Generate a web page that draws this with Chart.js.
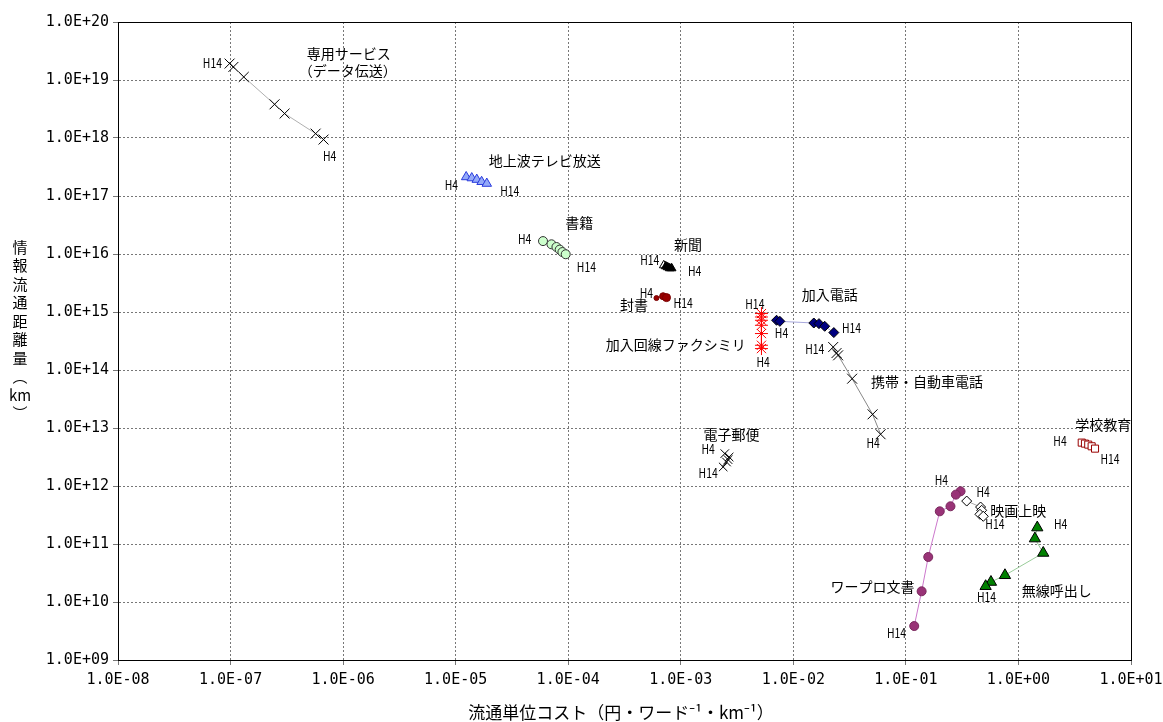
<!DOCTYPE html>
<html>
<head>
<meta charset="utf-8">
<script src="https://cdn.jsdelivr.net/npm/chart.js@4/dist/chart.umd.min.js"></script>
<style>
  html, body { margin: 0; padding: 0; background: #fff; }
  #wrap { width: 1163px; height: 722px; }
</style>
</head>
<body>
<div id="wrap"><canvas id="c" width="1163" height="722"></canvas></div>
<script>
// axis ticks
const xTickValues = [1e-8, 1e-7, 1e-6, 1e-5, 1e-4, 1e-3, 1e-2, 1e-1, 1e0, 1e1];
const xTickLabels = ["1.0E-08", "1.0E-07", "1.0E-06", "1.0E-05", "1.0E-04", "1.0E-03", "1.0E-02", "1.0E-01", "1.0E+00", "1.0E+01"];
const yTickValues = [1e9, 1e10, 1e11, 1e12, 1e13, 1e14, 1e15, 1e16, 1e17, 1e18, 1e19, 1e20];
const yTickLabels = ["1.0E+09", "1.0E+10", "1.0E+11", "1.0E+12", "1.0E+13", "1.0E+14", "1.0E+15", "1.0E+16", "1.0E+17", "1.0E+18", "1.0E+19", "1.0E+20"];

// series: cost (x) / distance (y)
const senyoX = [9.8e-8, 1.06e-7, 1.31e-7, 2.46e-7, 3.02e-7, 5.7e-7, 6.7e-7];
const senyoY = [1.92e19, 1.68e19, 1.13e19, 3.81e18, 2.64e18, 1.19e18, 9.4e17];
const tvX = [1.24e-5, 1.39e-5, 1.54e-5, 1.70e-5, 1.89e-5];
const tvY = [2.13e17, 2.04e17, 1.92e17, 1.76e17, 1.64e17];
const shosekiX = [5.97e-5, 7.1e-5, 7.86e-5, 8.4e-5, 8.88e-5, 9.5e-5];
const shosekiY = [1.67e16, 1.47e16, 1.32e16, 1.19e16, 1.08e16, 9.9e15];
const shinbunX = [7.06e-4, 7.36e-4, 7.66e-4, 7.98e-4, 8.3e-4];
const shinbunY = [6.38e15, 6.13e15, 5.9e15, 5.67e15, 5.67e15];
const fushoX = [6.08e-4, 6.97e-4, 7.47e-4];
const fushoY = [1.74e15, 1.87e15, 1.77e15];
const faxX = [5.21e-3, 5.21e-3, 5.21e-3, 5.21e-3, 5.21e-3, 5.21e-3, 5.21e-3];
const faxY = [9.4e14, 8.2e14, 7.2e14, 5.9e14, 4.25e14, 2.67e14, 2.34e14];
const kanyuX = [7.1e-3, 7.59e-3, 1.52e-2, 1.69e-2, 1.9e-2, 2.29e-2];
const kanyuY = [7.2e14, 6.9e14, 6.46e14, 6.3e14, 5.67e14, 4.42e14];
const keitaiX = [2.26e-2, 2.42e-2, 2.5e-2, 3.33e-2, 5.06e-2, 5.96e-2];
const keitaiY = [2.49e14, 1.96e14, 1.79e14, 7.08e13, 1.72e13, 7.8e12];
const denshiX = [2.46e-3, 2.69e-3, 2.63e-3, 2.55e-3, 2.38e-3];
const denshiY = [3.62e12, 3.16e12, 2.85e12, 2.59e12, 2.13e12];
const gakkoX = [3.65, 3.9, 4.17, 4.47, 4.79];
const gakkoY = [5.6e12, 5.38e12, 5.17e12, 4.84e12, 4.41e12];
const wapuroX = [0.306, 0.278, 0.249, 0.2, 0.158, 0.138, 0.1186];
const wapuroY = [8.1e11, 7.1e11, 4.47e11, 3.66e11, 5.97e10, 1.53e10, 3.85e9];
const eigaX = [0.347, 0.461, 0.471, 0.455, 0.487];
const eigaY = [5.5e11, 4.34e11, 3.81e11, 3.25e11, 3.0e11];
const musenX = [1.47, 1.40, 1.66, 0.759, 0.570, 0.511];
const musenY = [1.92e11, 1.24e11, 7.0e10, 2.89e10, 2.21e10, 1.87e10];

// annotations placed in data coordinates
const noteText = ["専用サービス", "（データ伝送）", "H14", "H4",
  "地上波テレビ放送", "H4", "H14",
  "書籍", "H4", "H14",
  "新聞", "H14", "H4",
  "封書", "H4", "H14",
  "加入回線ファクシミリ", "H14", "H4",
  "加入電話", "H4", "H14",
  "H14", "H4", "携帯・自動車電話",
  "電子郵便", "H4", "H14",
  "学校教育", "H4", "H14",
  "H4", "H14", "ワープロ文書",
  "H4", "H14", "映画上映",
  "H4", "H14", "無線呼出し"];
const noteX = [1.12e-6, 1.10e-6, 6.9e-8, 7.6e-7,
  6.18e-5, 9.16e-6, 3.02e-5,
  1.25e-4, 4.1e-5, 1.45e-4,
  1.16e-3, 5.3e-4, 1.33e-3,
  3.85e-4, 4.95e-4, 1.05e-3,
  9.04e-4, 4.55e-3, 5.4e-3,
  2.11e-2, 7.85e-3, 3.29e-2,
  1.55e-2, 5.12e-2, 0.154,
  2.82e-3, 1.75e-3, 1.75e-3,
  5.67, 2.34, 6.5,
  0.207, 8.26e-2, 5.04e-2,
  0.486, 0.618, 0.995,
  2.37, 0.521, 2.19];
const noteY = [2.85e19, 1.44e19, 1.98e19, 4.83e17,
  4.01e17, 1.57e17, 1.22e17,
  3.42e16, 1.84e16, 5.97e15,
  1.45e16, 8.0e15, 5.03e15,
  1.34e15, 2.13e15, 1.43e15,
  2.77e14, 1.36e15, 1.37e14,
  2.02e15, 4.35e14, 5.38e14,
  2.34e14, 5.51e12, 6.38e13,
  7.79e12, 4.42e12, 1.67e12,
  1.16e13, 5.97e12, 2.97e12,
  1.29e12, 2.92e9, 1.82e10,
  7.88e11, 2.25e11, 3.81e11,
  2.25e11, 1.22e10, 1.59e10];

const xTitle = "流通単位コスト（円・ワード⁻¹・km⁻¹）";
const yTitle = ["情", "報", "流", "通", "距", "離", "量", "︵", "km", "︶"];

const JP = '"Noto Sans CJK JP", "Noto Sans", sans-serif';
const MONO = '"DejaVu Sans Mono", "Liberation Mono", monospace';

function pts(xs, ys) {
  return xs.map((x, i) => ({ x: x, y: ys[i] }));
}

function series(xs, ys, style) {
  return Object.assign({
    data: pts(xs, ys),
    showLine: true,
    borderWidth: 1,
    pointBorderWidth: 1,
    pointHoverRadius: 5
  }, style);
}

const datasets = [
  series(senyoX, senyoY, { borderColor: "#b0b0b0", pointStyle: "crossRot", pointRadius: 7, pointBorderColor: "#000" }),
  series(tvX, tvY, { borderColor: "#9aa8ee", pointStyle: "triangle", pointRadius: 5.5, pointBorderColor: "#2a3bdd", pointBackgroundColor: "#94aaf8" }),
  series(shosekiX, shosekiY, { borderColor: "#999", pointStyle: "circle", pointRadius: 4.5, pointBorderColor: "#333", pointBackgroundColor: "#ccffcc" }),
  series(shinbunX, shinbunY, { borderColor: "#000", pointStyle: "triangle", pointRadius: 5, pointBorderColor: "#000", pointBackgroundColor: ["#fff", "#000", "#000", "#000", "#000"] }),
  series(fushoX, fushoY, { borderColor: "#990000", pointStyle: "circle", pointRadius: [2.5, 3.5, 4], pointBorderColor: "#7a0000", pointBackgroundColor: "#990000" }),
  series(faxX, faxY, { borderColor: "#ff0000", pointStyle: "star", pointRadius: 6.5, pointBorderColor: "#ff0000" }),
  series(kanyuX, kanyuY, { borderColor: "#a8a8dd", pointStyle: "rectRot", pointRadius: 5, pointBorderColor: "#000", pointBackgroundColor: "#000080" }),
  series(keitaiX, keitaiY, { borderColor: "#888", pointStyle: "crossRot", pointRadius: 7, pointBorderColor: "#000" }),
  series(denshiX, denshiY, { borderColor: "#666", pointStyle: "crossRot", pointRadius: 6, pointBorderColor: "#000" }),
  series(gakkoX, gakkoY, { borderColor: "#990000", pointStyle: "rect", pointRadius: 5, pointBorderColor: "#990000", pointBackgroundColor: "#fff" }),
  series(wapuroX, wapuroY, { borderColor: "#cc77cc", pointStyle: "circle", pointRadius: 4.5, pointBorderColor: "#7a2a5e", pointBackgroundColor: "#993377" }),
  series(eigaX, eigaY, { borderColor: "#aaa", pointStyle: "rectRot", pointRadius: 5, pointBorderColor: "#000", pointBackgroundColor: "#fff" }),
  series(musenX, musenY, { borderColor: "#99cc99", pointStyle: "triangle", pointRadius: 6.5, pointBorderColor: "#000", pointBackgroundColor: "#008000" })
];

const extras = {
  id: "extras",
  afterDatasetsDraw(chart) {
    const ctx = chart.ctx;
    const a = chart.chartArea;
    const sx = chart.scales.x, sy = chart.scales.y;
    ctx.save();
    // plot frame
    ctx.strokeStyle = "#000";
    ctx.lineWidth = 1;
    ctx.strokeRect(Math.round(a.left) + 0.5, Math.round(a.top) + 0.5, Math.round(a.right - a.left), Math.round(a.bottom - a.top));
    // annotations
    ctx.fillStyle = "#000";
    ctx.textAlign = "center";
    ctx.textBaseline = "middle";
    noteText.forEach((t, i) => {
      const px = sx.getPixelForValue(noteX[i]);
      const py = sy.getPixelForValue(noteY[i]);
      if (/^H\d+$/.test(t)) {
        ctx.font = "13px " + JP;
        ctx.save();
        ctx.translate(px, py);
        ctx.scale(0.8, 1);
        ctx.fillText(t, 0, 0);
        ctx.restore();
      } else {
        ctx.font = "14px " + JP;
        ctx.fillText(t, px, py);
      }
    });
    // axis titles
    ctx.font = "17px " + JP;
    ctx.fillText(xTitle, 621, 713);
    ctx.font = "15px " + JP;
    yTitle.forEach((t, i) => {
      ctx.fillText(t, 20, 247 + i * 18.5);
    });
    ctx.restore();
  }
};

new Chart(document.getElementById("c"), {
  type: "scatter",
  data: { datasets: datasets },
  options: {
    responsive: false,
    animation: false,
    devicePixelRatio: 1,
    layout: { padding: { top: 22, right: 32, left: 0, bottom: 0 } },
    plugins: { legend: { display: false }, tooltip: { enabled: false } },
    scales: {
      x: {
        type: "logarithmic",
        min: 1e-8,
        max: 10,
        afterBuildTicks: (s) => { s.ticks = xTickValues.map(v => ({ value: v })); },
        afterFit: (s) => { s.height = 62; s.paddingLeft = 0; s.paddingRight = 0; },
        ticks: {
          autoSkip: false,
          maxRotation: 0,
          padding: 6,
          color: "#000",
          font: { family: MONO, size: 15 },
          callback: (v, i) => xTickLabels[i]
        },
        grid: { color: "#777", lineWidth: 1, tickLength: 5 },
        border: { color: "#000", width: 1, dash: [2, 2] }
      },
      y: {
        type: "logarithmic",
        min: 1e9,
        max: 1e20,
        afterBuildTicks: (s) => { s.ticks = yTickValues.map(v => ({ value: v })); },
        afterFit: (s) => { s.width = 118; s.paddingTop = 0; s.paddingBottom = 0; },
        ticks: {
          autoSkip: false,
          padding: 4,
          color: "#000",
          font: { family: MONO, size: 15 },
          callback: (v, i) => yTickLabels[i]
        },
        grid: { color: "#777", lineWidth: 1, tickLength: 5 },
        border: { color: "#000", width: 1, dash: [2, 2] }
      }
    }
  },
  plugins: [extras]
});
</script>
</body>
</html>
